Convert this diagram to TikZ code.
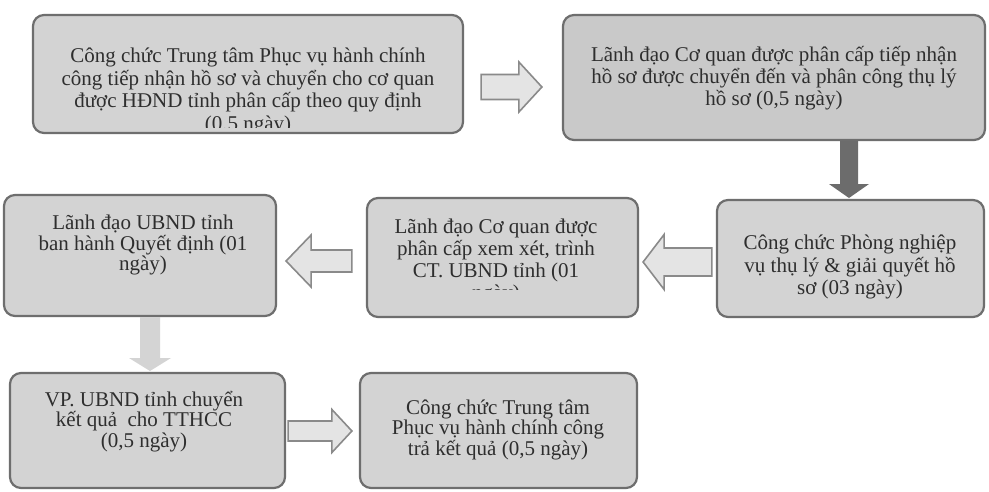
\documentclass[tikz,border=0pt]{standalone}
\usepackage{fontspec}
\setmainfont{Liberation Serif}
\usetikzlibrary{calc}
\definecolor{boxfill}{HTML}{D3D3D3}
\definecolor{boxfilldark}{HTML}{C9C9C9}
\definecolor{boxline}{HTML}{6E6E6E}
\definecolor{txtcol}{HTML}{2E2E2E}
\definecolor{arrline}{HTML}{8A8A8A}
\definecolor{arrfill}{HTML}{E4E4E4}
\definecolor{darkarr}{HTML}{6C6C6C}
\definecolor{palearr}{HTML}{D4D4D4}
\newcommand{\harrow}[6]{%
  \path[#6] ($(#1)+(0,-#3)$) -- ($(#2)+({-(#5)},-#3)$) -- ($(#2)+({-(#5)},-#4)$) -- (#2)
    -- ($(#2)+({-(#5)},#4)$) -- ($(#2)+({-(#5)},#3)$) -- ($(#1)+(0,#3)$) -- cycle;}
\newcommand{\varrow}[6]{%
  \path[#6] ($(#1)+(-#3,0)$) -- ($(#2)+(-#3,-#5)$) -- ($(#2)+(-#4,-#5)$) -- (#2)
    -- ($(#2)+(#4,-#5)$) -- ($(#2)+(#3,-#5)$) -- ($(#1)+(#3,0)$) -- cycle;}
\tikzset{
  stepbox/.style={draw=boxline, line width=2.2pt, fill=boxfill, rounded corners=11pt, inner sep=0pt},
  steptext/.style={align=center, text=txtcol, inner sep=0pt, font=\fontsize{21}{22.2}\selectfont},
  hollowarrow/.style={draw=arrline, line width=1.6pt, fill=arrfill, line join=miter},
  darkarrow/.style={fill=darkarr},
  palearrow/.style={fill=palearr}
}
\begin{document}
\begin{tikzpicture}[x=1pt,y=-1pt]
\useasboundingbox (0,0) rectangle (989,491);
\fill[white] (0,0) rectangle (989,491);

% boxes
\node[stepbox, minimum width=430pt, minimum height=118pt] (b1) at (248,74) {};
\node[stepbox, fill=boxfilldark, minimum width=422pt, minimum height=125pt] (b2) at (774,77.5) {};
\node[stepbox, minimum width=267pt, minimum height=117pt] (b3) at (850.5,258.5) {};
\node[stepbox, minimum width=271pt, minimum height=119pt] (b4) at (502.5,257.5) {};
\node[stepbox, minimum width=272pt, minimum height=121pt] (b5) at (140,255.5) {};
\node[stepbox, minimum width=275pt, minimum height=115pt] (b6) at (147.5,430.5) {};
\node[stepbox, minimum width=277pt, minimum height=115pt] (b7) at (498.5,430.5) {};

% texts
\begin{scope}
  \clip (33,15) rectangle (463,127);
  \node[steptext, font=\fontsize{21}{22.6}\selectfont] (t1) at (248,91.5) {Công chức Trung tâm Phục vụ hành chính\\công tiếp nhận hồ sơ và chuyển cho cơ quan\\được HĐND tỉnh phân cấp theo quy định\\(0,5 ngày)};
\end{scope}
\node[steptext] (t2) at (774,78) {Lãnh đạo Cơ quan được phân cấp tiếp nhận\\hồ sơ được chuyển đến và phân công thụ lý\\hồ sơ (0,5 ngày)};
\node[steptext] (t3) at (850,267) {Công chức Phòng nghiệp\\vụ thụ lý \& giải quyết hồ\\sơ (03 ngày)};
\begin{scope}
  \clip (367,198) rectangle (638,289);
  \node[steptext, font=\fontsize{21}{21.7}\selectfont] (t4) at (496,261.5) {Lãnh đạo Cơ quan được\\phân cấp xem xét, trình\\CT. UBND tỉnh (01\\ngày)};
\end{scope}
\node[steptext, font=\fontsize{21}{20.5}\selectfont] (t5) at (143,245) {Lãnh đạo UBND tỉnh\\ban hành Quyết định (01\\ngày)};
\node[steptext, font=\fontsize{21}{20.5}\selectfont] (t6) at (144,421.5) {VP. UBND tỉnh chuyển\\kết quả\ \ cho TTHCC\\(0,5 ngày)};
\node[steptext, font=\fontsize{21}{19.5}\selectfont] (t7) at (498,430) {Công chức Trung tâm\\Phục vụ hành chính công\\trả kết quả (0,5 ngày)};

% connector end points
\coordinate (a1s) at ($(b1.east)+(17,13)$);
\coordinate (a1e) at ($(b2.west)+(-20,9.5)$);
\coordinate (a2s) at (b2.south -| 849,0);
\coordinate (a2e) at (849,198);
\coordinate (a3s) at ($(b3.west)+(-4,3.5)$);
\coordinate (a3e) at ($(b4.east)+(4,4.5)$);
\coordinate (a4s) at ($(b4.west)+(-14,3.5)$);
\coordinate (a4e) at ($(b5.east)+(9,5.5)$);
\coordinate (a5s) at (150,317);
\coordinate (a5e) at (150,371);
\coordinate (a6s) at ($(b6.east)+(2,0.5)$);
\coordinate (a6e) at ($(b7.west)+(-7,0.5)$);

% block arrows
\harrow{a1s}{a1e}{12.5}{25}{23}{hollowarrow}
\varrow{a2s}{a2e}{9}{20}{14}{darkarrow}
\harrow{a3s}{a3e}{14}{27.5}{-21}{hollowarrow}
\harrow{a4s}{a4e}{11}{26}{-25}{hollowarrow}
\varrow{a5s}{a5e}{10}{21}{13}{palearrow}
\harrow{a6s}{a6e}{10}{21.5}{20}{hollowarrow}
\end{tikzpicture}
\end{document}
